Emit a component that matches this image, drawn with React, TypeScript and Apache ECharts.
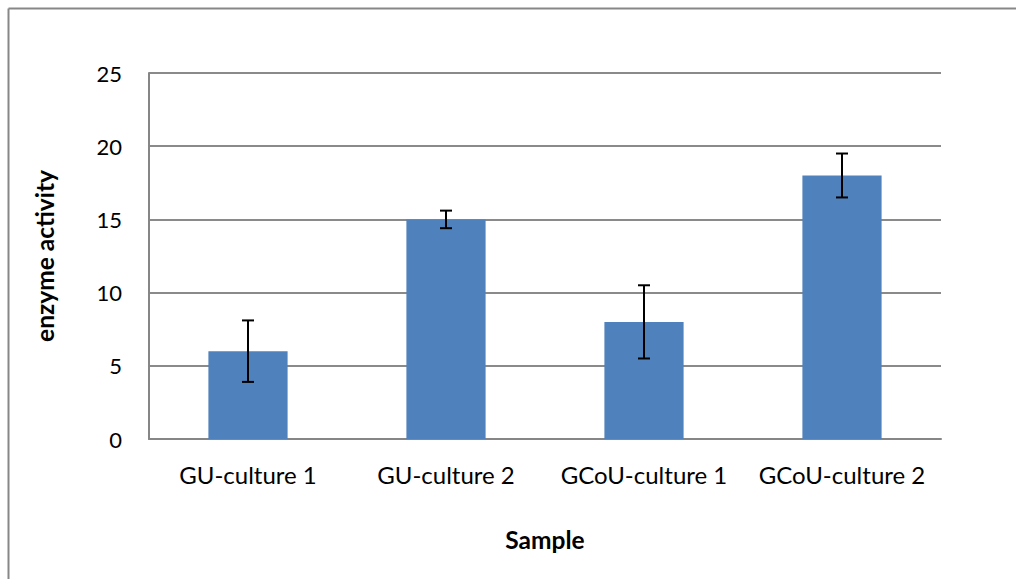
import React, { useEffect, useRef } from "react";
import * as echarts from "echarts";

const categories = ["GU-culture 1", "GU-culture 2", "GCoU-culture 1", "GCoU-culture 2"];
const values = [6, 15, 8, 18];
const errors = [2.1, 0.6, 2.5, 1.5];
const yTicks = { min: 0, max: 25, interval: 5 };

const FONT = "Lato, 'Liberation Sans', sans-serif";

export default function App() {
  const ref = useRef<HTMLDivElement>(null);
  useEffect(() => {
    if (!ref.current) return;
    const chart = echarts.init(ref.current, null, { renderer: "svg" });
    const errData = categories.map((_, i) => [i, values[i] - errors[i], values[i] + errors[i]]);
    chart.setOption({
      animation: false,
      backgroundColor: "#ffffff",
      textStyle: { fontFamily: FONT },
      grid: { left: 149, right: 75, top: 73, bottom: 140, containLabel: false },
      graphic: [
        { type: "line", shape: { x1: 8.5, y1: 8.5, x2: 1016, y2: 8.5 }, style: { stroke: "#878787", lineWidth: 2 } },
        { type: "line", shape: { x1: 8.5, y1: 8.5, x2: 8.5, y2: 579 }, style: { stroke: "#878787", lineWidth: 2 } },
      ],
      xAxis: {
        type: "category",
        data: categories,
        axisTick: { show: false },
        axisLine: { show: true, lineStyle: { color: "#868686", width: 2 } },
        axisLabel: { color: "#000", fontSize: 24, margin: 23, interval: 0, fontFamily: FONT },
        name: "Sample",
        nameLocation: "middle",
        nameGap: 88,
        nameTextStyle: { color: "#000", fontSize: 24.5, fontWeight: "bold", fontFamily: FONT },
      },
      yAxis: {
        type: "value",
        min: yTicks.min,
        max: yTicks.max,
        interval: yTicks.interval,
        axisTick: { show: false },
        axisLine: { show: true, lineStyle: { color: "#868686", width: 2 } },
        axisLabel: { color: "#000", fontSize: 22, margin: 27, fontFamily: FONT },
        splitLine: { show: true, lineStyle: { color: "#8a8a8a", width: 2 } },
        name: "enzyme activity",
        nameLocation: "middle",
        nameGap: 92,
        nameTextStyle: { color: "#000", fontSize: 24.5, fontWeight: "bold", fontFamily: FONT },
      },
      series: [
        {
          type: "bar",
          data: values,
          barWidth: "40%",
          itemStyle: { color: "#4f81bd" },
        },
        {
          type: "custom",
          data: errData,
          z: 10,
          renderItem: (params: any, api: any) => {
            const x = api.value(0);
            const lo = api.coord([x, api.value(1)]);
            const hi = api.coord([x, api.value(2)]);
            const hw = 6;
            const style = { stroke: "#000", lineWidth: 2 };
            return {
              type: "group",
              children: [
                { type: "line", shape: { x1: hi[0], y1: hi[1], x2: lo[0], y2: lo[1] }, style },
                { type: "line", shape: { x1: hi[0] - hw, y1: hi[1], x2: hi[0] + hw, y2: hi[1] }, style },
                { type: "line", shape: { x1: lo[0] - hw, y1: lo[1], x2: lo[0] + hw, y2: lo[1] }, style },
              ],
            };
          },
        },
      ],
    });
    return () => chart.dispose();
  }, []);
  return (
    <div
      ref={ref}
      style={{ position: "fixed", left: 0, top: 0, width: 1016, height: 579 }}
    />
  );
}
